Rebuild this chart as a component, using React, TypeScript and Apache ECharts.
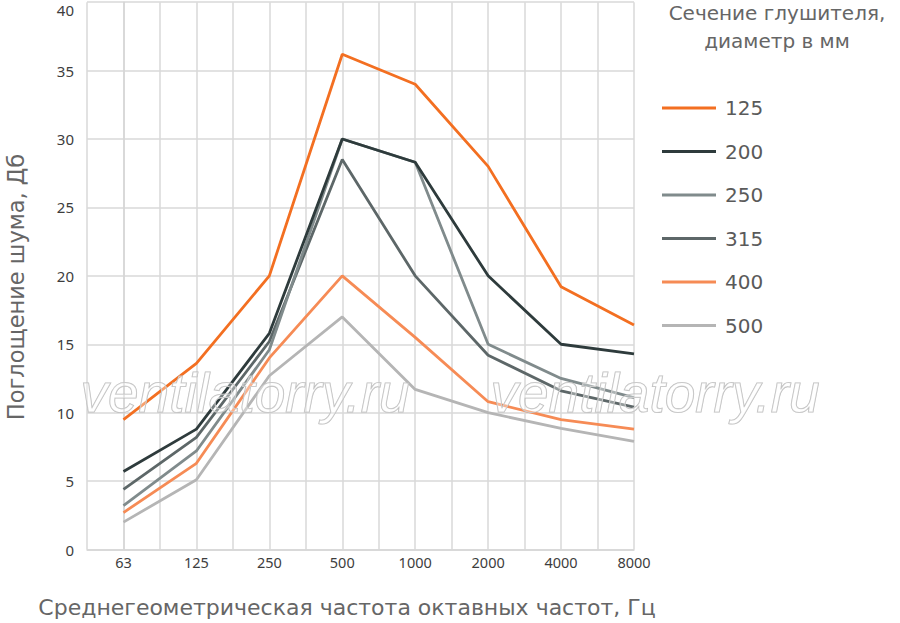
import React, { useEffect, useRef } from "react";
import * as echarts from "echarts";

const categories = ["63", "125", "250", "500", "1000", "2000", "4000", "8000"];
const seriesNames = ["125", "200", "250", "315", "400", "500"];
const s125 = [9.5, 13.6, 20, 36.2, 34.0, 28.0, 19.2, 16.4];
const s200 = [5.7, 8.8, 15.8, 30.0, 28.3, 20.0, 15.0, 14.3];
const s250 = [3.2, 7.2, 14.6, 30.0, 28.3, 15.0, 12.5, 11.1];
const s315 = [4.4, 8.2, 15.2, 28.5, 20.0, 14.2, 11.6, 10.4];
const s400 = [2.7, 6.3, 14.0, 20.0, 15.5, 10.8, 9.5, 8.8];
const s500 = [2.0, 5.1, 12.7, 17.0, 11.7, 10.0, 8.85, 7.9];
const seriesData = [s125, s200, s250, s315, s400, s500];
const colors = ["#f36f21", "#2e3b3c", "#808b8c", "#5d6768", "#f68b55", "#b5b5b5"];

const FONT = "'Noto Sans', 'DejaVu Sans', sans-serif";
const WIDE = "'DejaVu Sans', 'Noto Sans', sans-serif";

export default function App() {
  const ref = useRef<HTMLDivElement>(null);
  useEffect(() => {
    document.body.style.margin = "0";
    const chart = echarts.init(ref.current!, null, { renderer: "svg" });
    chart.setOption({
      animation: false,
      backgroundColor: "#ffffff",
      textStyle: { fontFamily: FONT },
      grid: { left: 87, right: 266, top: 2.2, bottom: 73.5, containLabel: false },
      xAxis: {
        type: "value",
        min: -0.5,
        max: 7,
        interval: 0.5,
        axisLine: { show: true, lineStyle: { color: "#d6d6d6", width: 1.5 } },
        axisTick: { show: false },
        splitLine: { show: true, lineStyle: { color: "#d9d9d9", width: 1.5 } },
        axisLabel: {
          margin: 5,
          color: "#3d3d3d",
          fontSize: 14.5,
          fontFamily: FONT,
          formatter: (v: number) => (Number.isInteger(v) && v >= 0 ? categories[v] : ""),
        },
      },
      yAxis: {
        type: "value",
        min: 0,
        max: 40,
        interval: 5,
        axisLine: { show: true, lineStyle: { color: "#d6d6d6", width: 1.5 } },
        axisTick: { show: false },
        splitLine: { show: true, lineStyle: { color: "#d9d9d9", width: 1.5 } },
        axisLabel: {
          margin: 13,
          color: "#3d3d3d",
          fontSize: 15,
          fontFamily: FONT,
          verticalAlignMaxLabel: "top",
        },
      },
      legend: {
        orient: "vertical",
        left: 662,
        top: 98,
        padding: 0,
        itemGap: 23.5,
        itemWidth: 54,
        itemHeight: 3,
        icon: "rect",
        textStyle: { fontSize: 20, color: "#5a5a5a", fontFamily: WIDE, padding: [0, 0, 0, 4] },
        data: seriesNames,
      },
      series: seriesNames.map((name, i) => ({
        name,
        type: "line",
        symbol: "none",
        data: seriesData[i].map((v, j) => [j, v]),
        lineStyle: { color: colors[i], width: 2.8 },
        itemStyle: { color: colors[i] },
        z: 3 + (5 - i),
      })),
      graphic: [
        {
          type: "text",
          style: {
            text: "Сечение глушителя,\nдиаметр в мм",
            x: 777,
            y: -1,
            align: "center",
            fill: "#666666",
            fontSize: 20,
            lineHeight: 28,
            fontFamily: WIDE,
          },
        },
        {
          type: "text",
          style: {
            text: "Среднегеометрическая частота октавных частот, Гц",
            x: 347,
            y: 607,
            align: "center",
            verticalAlign: "middle",
            fill: "#666666",
            fontSize: 22,
            fontFamily: WIDE,
          },
        },
        {
          type: "text",
          x: 16,
          y: 287,
          rotation: Math.PI / 2,
          style: {
            text: "Поглощение шума, Дб",
            x: 0,
            y: 0,
            align: "center",
            verticalAlign: "middle",
            fill: "#666666",
            fontSize: 22.5,
            fontFamily: WIDE,
          },
        },
        {
          type: "text",
          z: 100,
          style: {
            text: "ventilatorry.ru",
            x: 245,
            y: 393,
            align: "center",
            verticalAlign: "middle",
            fill: "rgba(255,255,255,0.35)",
            stroke: "#bdbdbd",
            lineWidth: 1.1,
            fontSize: 55,
            fontStyle: "italic",
            fontFamily: "'Liberation Sans', Arial, sans-serif",
          },
        },
        {
          type: "text",
          z: 100,
          style: {
            text: "ventilatorry.ru",
            x: 655,
            y: 393,
            align: "center",
            verticalAlign: "middle",
            fill: "rgba(255,255,255,0.35)",
            stroke: "#bdbdbd",
            lineWidth: 1.1,
            fontSize: 55,
            fontStyle: "italic",
            fontFamily: "'Liberation Sans', Arial, sans-serif",
          },
        },
      ],
    });
    return () => chart.dispose();
  }, []);
  return <div ref={ref} style={{ width: 900, height: 623 }} />;
}
